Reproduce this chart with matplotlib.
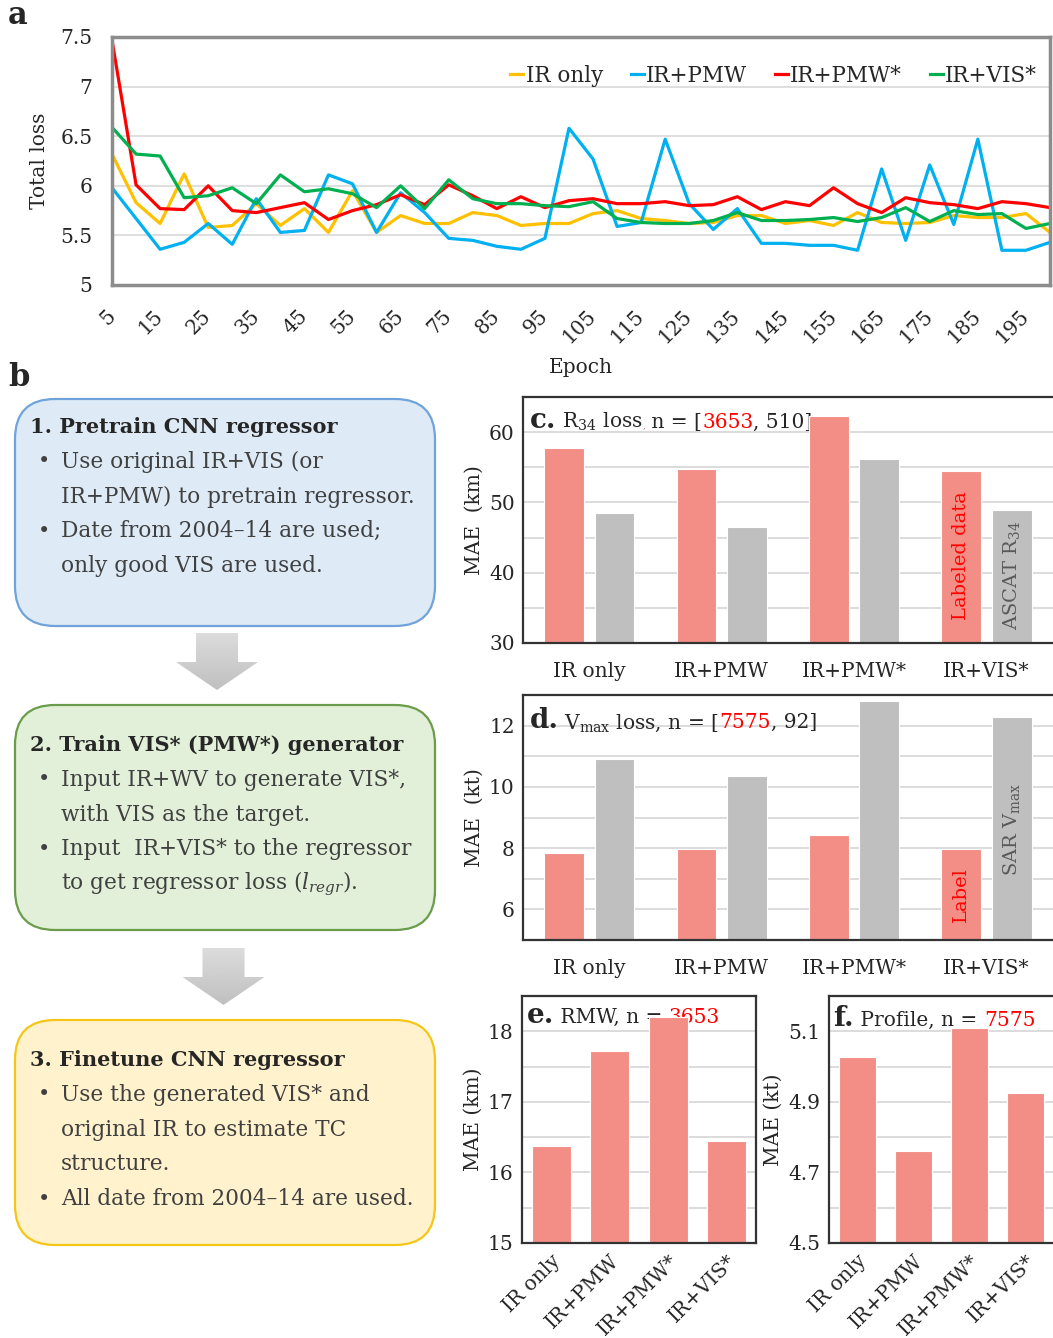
import matplotlib
matplotlib.use("Agg")
import matplotlib.pyplot as plt
import numpy as np
from matplotlib.patches import FancyBboxPatch, Polygon
from matplotlib.offsetbox import TextArea, HPacker, AnchoredOffsetbox
from matplotlib.ticker import FuncFormatter, MultipleLocator

plt.rcParams["font.family"] = ["DejaVu Serif"]
plt.rcParams["mathtext.fontset"] = "dejavuserif"

# ---- a. training loss curves (every 5 epochs) ----
epochs = np.arange(5, 205, 5)
loss_ir_only = [6.32, 5.83, 5.62, 6.12, 5.58, 5.60, 5.82, 5.60, 5.77, 5.53,
                5.95, 5.53, 5.70, 5.62, 5.62, 5.73, 5.70, 5.60, 5.62, 5.62,
                5.72, 5.75, 5.67, 5.65, 5.62, 5.63, 5.70, 5.70, 5.62, 5.65,
                5.60, 5.73, 5.63, 5.62, 5.63, 5.70, 5.68, 5.68, 5.72, 5.53]
loss_ir_pmw = [5.98, 5.67, 5.36, 5.43, 5.62, 5.41, 5.87, 5.53, 5.55, 6.11,
               6.02, 5.53, 5.93, 5.73, 5.47, 5.45, 5.39, 5.36, 5.47, 6.58,
               6.27, 5.59, 5.63, 6.47, 5.82, 5.56, 5.77, 5.42, 5.42, 5.40,
               5.40, 5.35, 6.17, 5.45, 6.21, 5.61, 6.47, 5.35, 5.35, 5.43]
loss_ir_pmw_star = [7.47, 6.01, 5.77, 5.76, 6.00, 5.75, 5.73, 5.78, 5.83, 5.66,
                    5.75, 5.81, 5.91, 5.81, 6.01, 5.90, 5.77, 5.89, 5.78, 5.85,
                    5.87, 5.82, 5.82, 5.84, 5.80, 5.81, 5.89, 5.76, 5.84, 5.80,
                    5.98, 5.82, 5.73, 5.88, 5.83, 5.81, 5.77, 5.84, 5.82, 5.78]
loss_ir_vis_star = [6.59, 6.32, 6.30, 5.88, 5.90, 5.98, 5.82, 6.11, 5.94, 5.97,
                    5.92, 5.78, 6.00, 5.77, 6.06, 5.87, 5.82, 5.82, 5.80, 5.79,
                    5.84, 5.67, 5.63, 5.62, 5.62, 5.65, 5.73, 5.65, 5.65, 5.66,
                    5.68, 5.64, 5.68, 5.78, 5.64, 5.75, 5.71, 5.72, 5.57, 5.62]

# ---- c-f. evaluation errors ----
models = ["IR only", "IR+PMW", "IR+PMW*", "IR+VIS*"]
r34_labeled = [57.7, 54.8, 62.3, 54.5]
r34_ascat = [48.5, 46.5, 56.2, 48.9]
vmax_labeled = [7.83, 7.96, 8.42, 7.98]
vmax_sar = [10.90, 10.34, 12.79, 12.27]
rmw_mae = [16.38, 17.72, 18.20, 16.45]
profile_mae = [5.028, 4.761, 5.109, 4.926]

steps = [
    ("1. Pretrain CNN regressor",
     [["Use original IR+VIS (or", "IR+PMW) to pretrain regressor."],
      ["Date from 2004\u201314 are used;", "only good VIS are used."]]),
    ("2. Train VIS* (PMW*) generator",
     [["Input IR+WV to generate VIS*,", "with VIS as the target."],
      ["Input  IR+VIS* to the regressor",
       "to get regressor loss ($l_{regr}$)."]]),
    ("3. Finetune CNN regressor",
     [["Use the generated VIS* and", "original IR to estimate TC", "structure."],
      ["All date from 2004\u201314 are used."]]),
]

W, H = 1053, 1338
ink = "#262626"
pink = "#F28E86"
grey = "#BFBFBF"
fig = plt.figure(figsize=(W / 100, H / 100), dpi=100)
fig.patch.set_facecolor("white")


def px_axes(left, top, right, bottom):
    return fig.add_axes([left / W, 1 - bottom / H, (right - left) / W, (bottom - top) / H])


# background canvas in pixel units for the flow chart
bg = fig.add_axes([0, 0, 1, 1], zorder=0)
bg.set_xlim(0, W)
bg.set_ylim(H, 0)
bg.axis("off")

bg.text(8, 16, "a", fontsize=22, fontweight="bold", color=ink, va="center")
bg.text(8, 377, "b", fontsize=22, fontweight="bold", color=ink, va="center")

box_styles = [("#DEEBF7", "#6FA3DA", 399, 626, 28),
              ("#E2F0D9", "#6A9C4A", 705, 930, 40),
              ("#FFF2CC", "#F5C518", 1020, 1245, 40)]
for (title, bullets), (fc, ec, top, bottom, dy) in zip(steps, box_styles):
    bg.add_patch(FancyBboxPatch((15 + 40, top + 40), 420 - 80, bottom - top - 80,
                                boxstyle="round,pad=40", fc=fc, ec=ec, lw=1.6))
    y = top + dy
    bg.text(30, y, title, fontsize=15, fontweight="bold", color=ink, va="center")
    for lines in bullets:
        for k, line in enumerate(lines):
            y += 34.8
            if k == 0:
                bg.text(38, y, "\u2022", fontsize=15, color="#404040", va="center")
            bg.text(61, y, line, fontsize=15.6, color="#404040", va="center")

# grey block arrows between the steps
for cx, y0 in [(217, 633), (223.5, 948)]:
    arrow = Polygon([(cx - 21, y0), (cx + 21, y0), (cx + 21, y0 + 29), (cx + 41, y0 + 29),
                     (cx, y0 + 57), (cx - 41, y0 + 29), (cx - 21, y0 + 29)],
                    closed=True, fc="none", ec="none")
    bg.add_patch(arrow)
    grad = bg.imshow(np.linspace(0.86, 0.75, 50)[:, None], cmap="gray", vmin=0, vmax=1,
                     extent=(cx - 42, cx + 42, y0 + 58, y0), aspect="auto")
    grad.set_clip_path(arrow)

# ---- panel a ----
ax = px_axes(112, 37, 1050, 285)
ax.plot(epochs, loss_ir_only, color="#FFC000", lw=2.3, label="IR only")
ax.plot(epochs, loss_ir_pmw, color="#00B0F0", lw=2.3, label="IR+PMW")
ax.plot(epochs, loss_ir_pmw_star, color="#FF0000", lw=2.3, label="IR+PMW*")
ax.plot(epochs, loss_ir_vis_star, color="#00B050", lw=2.3, label="IR+VIS*")
ax.set_xlim(5, 200)
ax.set_ylim(5, 7.5)
ax.set_yticks(np.arange(5, 7.51, 0.5))
ax.yaxis.set_major_formatter(FuncFormatter(lambda v, _: f"{v:g}"))
ax.set_xticks(epochs[::2])
ax.set_xticklabels([str(e) for e in epochs[::2]], rotation=45, ha="right",
                   va="center", rotation_mode="anchor")
ax.tick_params(length=0, labelsize=14.5, colors=ink)
ax.tick_params(axis="x", pad=20)
ax.tick_params(axis="y", pad=14)
ax.grid(axis="y", color="#D9D9D9", lw=1.2)
ax.set_axisbelow(True)
for s in ax.spines.values():
    s.set_color("#8C8C8C")
    s.set_linewidth(2.5)
ax.set_ylabel("Total loss", fontsize=14.5, color=ink, labelpad=8)
ax.set_xlabel("Epoch", fontsize=14.5, color=ink, labelpad=8)
leg = ax.legend(loc="upper right", ncol=4, frameon=False, fontsize=15.5,
                handlelength=0.6, handletextpad=0.1, columnspacing=1.3,
                bbox_to_anchor=(1.0, 0.94), borderaxespad=0.2)
for t in leg.get_texts():
    t.set_color(ink)


def panel_title(ax, parts, x, y):
    boxes = [TextArea(s, textprops=dict(color=c, fontsize=fs, fontweight=fw))
             for s, c, fs, fw in parts]
    pack = HPacker(children=boxes, align="baseline", pad=0, sep=0)
    anchored = AnchoredOffsetbox(loc="upper left", child=pack, frameon=False, pad=0,
                                 borderpad=0, bbox_to_anchor=(x, y),
                                 bbox_transform=ax.transAxes)
    anchored.set_zorder(1)
    ax.add_artist(anchored)


def style_bar_axes(ax, ylabel):
    ax.grid(axis="y", which="both", color="#D9D9D9", lw=1.3)
    ax.set_axisbelow(True)
    ax.tick_params(which="both", length=0, labelsize=14.5, colors=ink)
    ax.tick_params(axis="y", pad=6)
    for s in ax.spines.values():
        s.set_color("#333333")
        s.set_linewidth(1.6)
    ax.set_ylabel(ylabel, fontsize=14.5, color=ink)


x = np.arange(len(models))
off, bw = 0.19, 0.30

# ---- panel c ----
ax = px_axes(523, 397, 1058, 643)
ax.bar(x - off, r34_labeled, bw, color=pink, edgecolor="white", lw=0.8, zorder=2)
ax.bar(x + off, r34_ascat, bw, color=grey, edgecolor="white", lw=0.8, zorder=2)
ax.set_xlim(-0.5, 3.54)
ax.set_ylim(30, 65)
ax.set_xticks(x, models)
ax.set_yticks([30, 40, 50, 60])
ax.yaxis.set_minor_locator(MultipleLocator(5))
ax.tick_params(axis="x", pad=14)
style_bar_axes(ax, "MAE  (km)")
panel_title(ax, [("c.", ink, 20, "bold"), (" R$_{34}$ loss", ink, 14.5, "normal"),
                 (",", "#E06060", 6, "normal"), (" n = [", ink, 14.5, "normal"),
                 ("3653", "red", 14.5, "normal"), (", 510]", ink, 14.5, "normal")],
            0.012, 0.96)
ax.text(3 - off, 33.3, "Labeled data", rotation=90, color="red", fontsize=14,
        ha="center", va="bottom", zorder=3)
ax.text(3 + off, 31.8, "ASCAT R$_{34}$", rotation=90, color="#595959", fontsize=14,
        ha="center", va="bottom", zorder=3)

# ---- panel d ----
ax = px_axes(523, 695, 1058, 940)
ax.bar(x - off, vmax_labeled, bw, color=pink, edgecolor="white", lw=0.8, zorder=2)
ax.bar(x + off, vmax_sar, bw, color=grey, edgecolor="white", lw=0.8, zorder=2)
ax.set_xlim(-0.5, 3.54)
ax.set_ylim(5, 13)
ax.set_xticks(x, models)
ax.set_yticks([6, 8, 10, 12])
ax.yaxis.set_minor_locator(MultipleLocator(1))
ax.tick_params(axis="x", pad=14)
style_bar_axes(ax, "MAE  (kt)")
panel_title(ax, [("d.", ink, 20, "bold"), (" V$_\\mathrm{max}$ loss, n = [", ink, 14.5, "normal"),
                 ("7575", "red", 14.5, "normal"), (", 92]", ink, 14.5, "normal")],
            0.012, 0.95)
ax.text(3 - off, 5.58, "Label", rotation=90, color="red", fontsize=14,
        ha="center", va="bottom", zorder=3)
ax.text(3 + off, 7.1, "SAR V$_\\mathrm{max}$", rotation=90, color="#595959", fontsize=14,
        ha="center", va="bottom", zorder=3)

# ---- panel e ----
ax = px_axes(522, 996, 756, 1243)
ax.bar(x, rmw_mae, 0.66, color=pink, edgecolor="white", lw=0.8, zorder=2)
ax.set_xlim(-0.5, 3.5)
ax.set_ylim(15, 18.5)
ax.set_xticks(x, models, rotation=45, ha="right", rotation_mode="anchor")
ax.set_yticks([15, 16, 17, 18])
ax.yaxis.set_minor_locator(MultipleLocator(0.5))
ax.tick_params(axis="x", pad=6)
style_bar_axes(ax, "MAE (km)")
panel_title(ax, [("e.", ink, 20, "bold"), (" RMW, n = ", ink, 14.5, "normal"),
                 ("3653", "red", 14.5, "normal")], 0.02, 0.975)

# ---- panel f ----
ax = px_axes(829, 996, 1058, 1243)
ax.bar(x, profile_mae, 0.66, color=pink, edgecolor="white", lw=0.8, zorder=2)
ax.set_xlim(-0.5, 3.58)
ax.set_ylim(4.5, 5.2)
ax.set_xticks(x, models, rotation=45, ha="right", rotation_mode="anchor")
ax.set_yticks([4.5, 4.7, 4.9, 5.1])
ax.set_yticks([4.6, 4.8, 5.0], minor=True)
ax.tick_params(axis="x", pad=6)
style_bar_axes(ax, "MAE (kt)")
ax.yaxis.set_major_formatter(FuncFormatter(lambda v, _: f"{v:.1f}"))
panel_title(ax, [("f.", ink, 20, "bold"), (" Profile, n = ", ink, 14.5, "normal"),
                 ("7575", "red", 14.5, "normal")], 0.02, 0.965)

fig.savefig("out.png", dpi=100, facecolor="white")
